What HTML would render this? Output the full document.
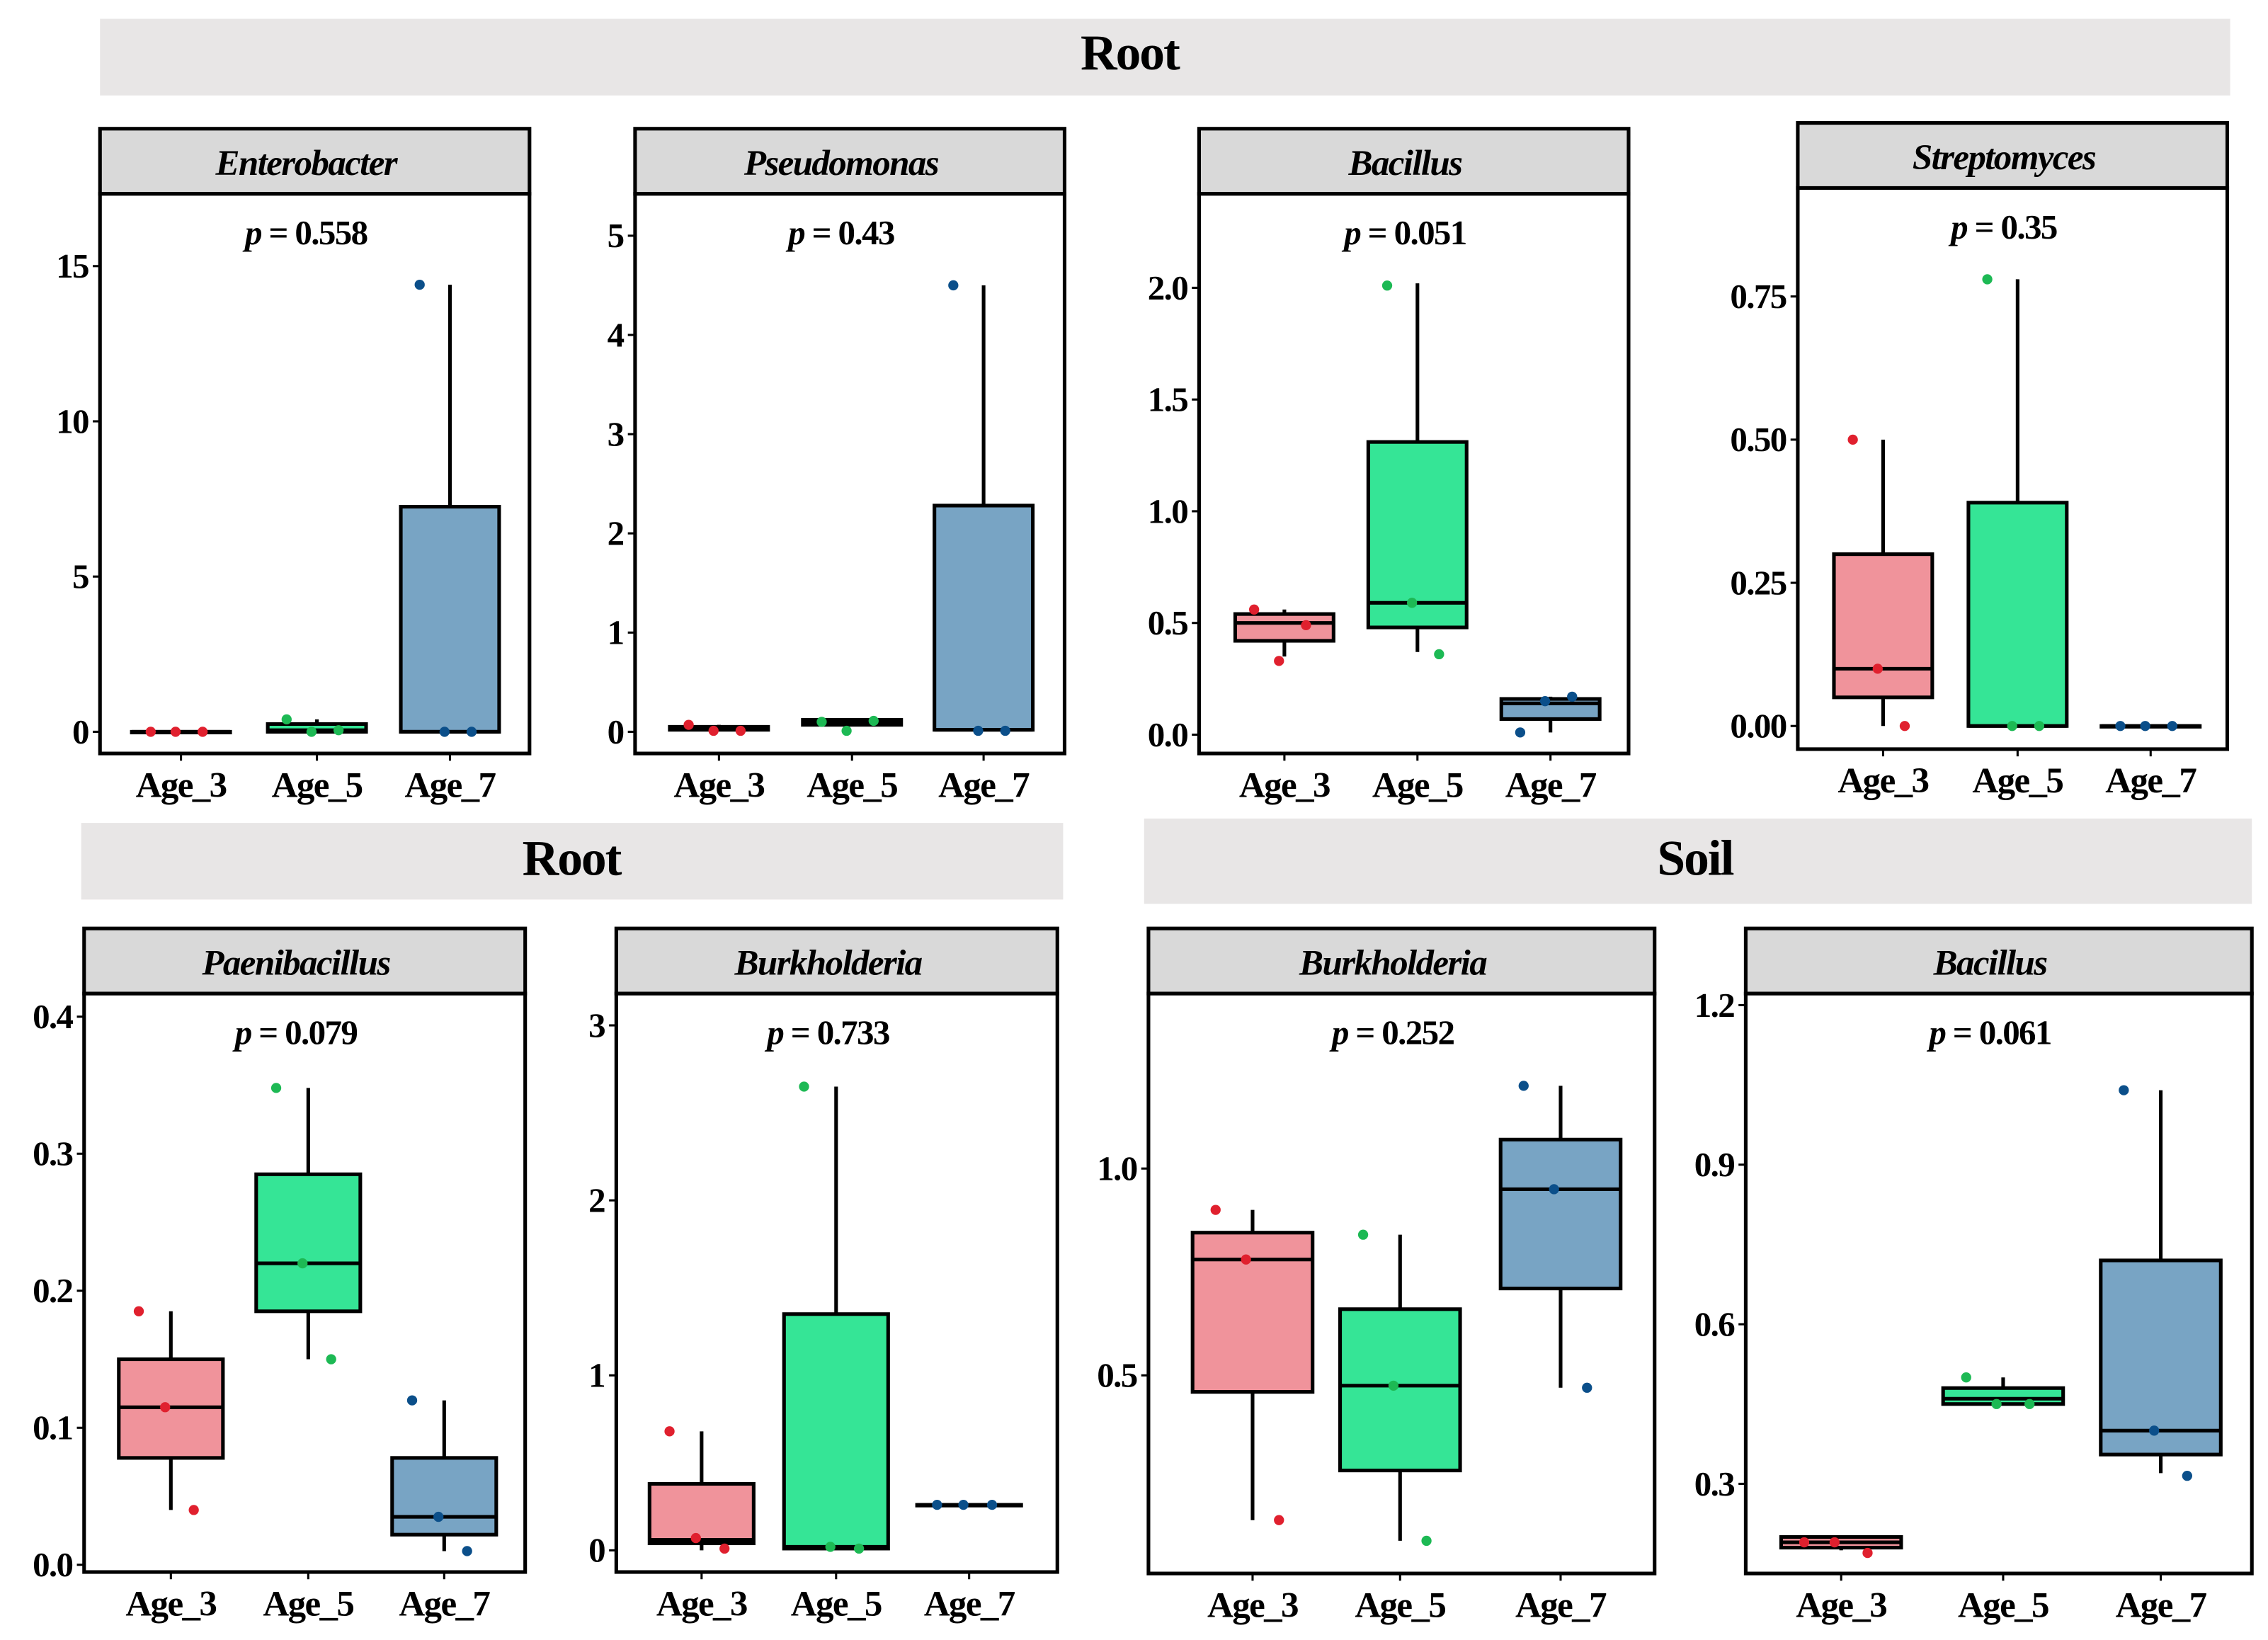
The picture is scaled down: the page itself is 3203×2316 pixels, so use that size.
<!DOCTYPE html>
<html><head><meta charset="utf-8">
<style>
html,body{margin:0;padding:0;background:#fff;}
svg{display:block;font-family:"Liberation Serif",serif;font-weight:bold;}
</style></head>
<body>
<svg id="fig" width="3203" height="2316" viewBox="0 0 1568 1134" xmlns="http://www.w3.org/2000/svg">
<rect x="0" y="0" width="1568" height="1134" fill="#fff"/>
<rect x="69" y="13" width="1473" height="53" fill="#e8e6e6"/>
<text x="781" y="48" font-size="35" text-anchor="middle" letter-spacing="-1">Root</text>
<rect x="56" y="569" width="679" height="53" fill="#e8e6e6"/>
<text x="395" y="605" font-size="35" text-anchor="middle" letter-spacing="-1">Root</text>
<rect x="791" y="566" width="766" height="59" fill="#e8e6e6"/>
<text x="1172" y="605" font-size="35" text-anchor="middle" letter-spacing="-1">Soil</text>
</svg>
<script>
const categories = ["Age_3","Age_5","Age_7"];
const titles = ["Enterobacter","Pseudomonas","Bacillus","Streptomyces","Paenibacillus","Burkholderia","Burkholderia","Bacillus"];
const pvalues = ["0.558","0.43","0.051","0.35","0.079","0.733","0.252","0.061"];
const tickLabels = [["0","5","10","15"],["0","1","2","3","4","5"],["0.0","0.5","1.0","1.5","2.0"],["0.00","0.25","0.50","0.75"],["0.0","0.1","0.2","0.3","0.4"],["0","1","2","3"],["0.5","1.0"],["0.3","0.6","0.9","1.2"]];
const q1s = [[0,0,0],[0.02,0.07,0.02],[0.42,0.48,0.07],[0.05,0,0],[0.078,0.185,0.022],[0.04,0.01,0.26],[0.46,0.27,0.71],[0.18,0.45,0.355]];
const medians = [[0,0.05,0],[0.03,0.1,0.02],[0.5,0.59,0.14],[0.1,0,0],[0.115,0.22,0.035],[0.06,0.02,0.26],[0.78,0.475,0.95],[0.19,0.46,0.4]];
const q3s = [[0,0.25,7.25],[0.05,0.12,2.28],[0.54,1.31,0.16],[0.3,0.39,0],[0.15,0.285,0.078],[0.38,1.35,0.26],[0.845,0.66,1.07],[0.2,0.48,0.72]];
const lows = [[0,0,0],[0.02,0.07,0.02],[0.35,0.37,0.01],[0,0,0],[0.04,0.15,0.01],[0,0.01,0.26],[0.15,0.1,0.47],[0.175,0.45,0.32]];
const highs = [[0,0.4,14.4],[0.07,0.12,4.5],[0.56,2.02,0.17],[0.5,0.78,0],[0.185,0.348,0.12],[0.68,2.65,0.26],[0.9,0.84,1.2],[0.2,0.5,1.04]];
const points = [
 [[0,0,0],[0.4,0,0.05],[14.4,0,0]],
 [[0.07,0.01,0.01],[0.1,0.01,0.11],[4.5,0.01,0.01]],
 [[0.56,0.33,0.49],[2.01,0.59,0.36],[0.01,0.15,0.17]],
 [[0.5,0.1,0],[0.78,0,0],[0,0,0]],
 [[0.185,0.115,0.04],[0.348,0.22,0.15],[0.12,0.035,0.01]],
 [[0.68,0.07,0.01],[2.65,0.02,0.01],[0.26,0.26,0.26]],
 [[0.9,0.78,0.15],[0.84,0.475,0.1],[1.2,0.95,0.47]],
 [[0.19,0.19,0.17],[0.5,0.45,0.45],[1.04,0.4,0.315]]
];
const layout = [
 {x0:69,x1:366,st:89,sb:134,pb:521,v0:0,p0:506,v1:15,p1:184,cx:[125,219,311],bw:68},
 {x0:439,x1:736,st:89,sb:134,pb:521,v0:0,p0:506,v1:5,p1:163,cx:[497,589,680],bw:68},
 {x0:829,x1:1126,st:89,sb:134,pb:521,v0:0,p0:508,v1:2,p1:199,cx:[888,980,1072],bw:68},
 {x0:1243,x1:1540,st:85,sb:130,pb:518,v0:0,p0:502,v1:0.75,p1:205,cx:[1302,1395,1487],bw:68},
 {x0:58,x1:363,st:642,sb:687,pb:1087,v0:0,p0:1082,v1:0.4,p1:703,cx:[118,213,307],bw:72},
 {x0:426,x1:731,st:642,sb:687,pb:1087,v0:0,p0:1072,v1:3,p1:709,cx:[485,578,670],bw:72},
 {x0:794,x1:1144,st:642,sb:687,pb:1088,v0:0.5,p0:951,v1:1.0,p1:808,cx:[866,968,1079],bw:83},
 {x0:1207,x1:1557,st:642,sb:687,pb:1088,v0:0.3,p0:1026,v1:1.2,p1:695,cx:[1273,1385,1494],bw:83}
];
const jit = [-0.28,-0.05,0.2];
const fills = ["#f0939b","#35e596","#78a4c4"];
const dots = ["#e0202e","#1db954","#0b4f8a"];
const svg = document.getElementById('fig');
const NS = "http://www.w3.org/2000/svg";
function mk(tag, attrs, parent){const e=document.createElementNS(NS,tag);for(const k in attrs)e.setAttribute(k,attrs[k]);(parent||svg).appendChild(e);return e;}
layout.forEach((L,i)=>{
  const g = mk('g',{});
  
  
  const y = v => L.p0 + (v-L.v0)*(L.p1-L.p0)/(L.v1-L.v0);
  const strip = mk('rect',{x:L.x0,y:L.st,width:L.x1-L.x0,height:L.sb-L.st,fill:'#d9d9d9',stroke:'#000','stroke-width':2.5},g);
  
  
  const tt = mk('text',{x:(L.x0+L.x1)/2-6,y:L.st+32,'font-size':25,'font-style':'italic','text-anchor':'middle','letter-spacing':-0.8},g);
  tt.textContent = titles[i];
  
  
  const pt = mk('text',{x:(L.x0+L.x1)/2-6,y:L.sb+35,'font-size':24,'text-anchor':'middle','letter-spacing':-0.8},g);
  pt.innerHTML = '<tspan font-style="italic">p</tspan> = '+pvalues[i];
  
  
  tickLabels[i].forEach(t=>{
    const v=parseFloat(t), yy=y(v);
    mk('line',{x1:L.x0-5,x2:L.x0,y1:yy,y2:yy,stroke:'#000','stroke-width':1.5},g);
    const tl = mk('text',{x:L.x0-8,y:yy+8,'font-size':24,'text-anchor':'end','letter-spacing':-0.8},g);
    tl.textContent=t;
    
    
  });
  categories.forEach((c,k)=>{
    const cx=L.cx[k], hw=L.bw/2;
    mk('line',{x1:cx,x2:cx,y1:L.pb,y2:L.pb+5,stroke:'#000','stroke-width':1.5},g);
    const xl = mk('text',{x:cx,y:L.pb+30,'font-size':25,'text-anchor':'middle','letter-spacing':-0.8},g);
    xl.textContent=c;
    
    
    mk('line',{x1:cx,x2:cx,y1:y(lows[i][k]),y2:y(highs[i][k]),stroke:'#000','stroke-width':2.5},g);
    const top=y(q3s[i][k]), bot=y(q1s[i][k]);
    const b = mk('rect',{x:cx-hw,y:Math.min(top,bot),width:L.bw,height:Math.max(Math.abs(bot-top),0.5),fill:fills[k],stroke:'#000','stroke-width':2.5},g);
    
    
    mk('line',{x1:cx-hw,x2:cx+hw,y1:y(medians[i][k]),y2:y(medians[i][k]),stroke:'#000','stroke-width':2.5},g);
    points[i][k].forEach((v,j)=>{
      const d = mk('circle',{cx:cx+jit[j]*L.bw*1.1,cy:y(v),r:3.5,fill:dots[k]},g);
      
      
    });
  });
  mk('rect',{x:L.x0,y:L.sb,width:L.x1-L.x0,height:L.pb-L.sb,fill:'none',stroke:'#000','stroke-width':2.5},g);
});
</script>
</body></html>
